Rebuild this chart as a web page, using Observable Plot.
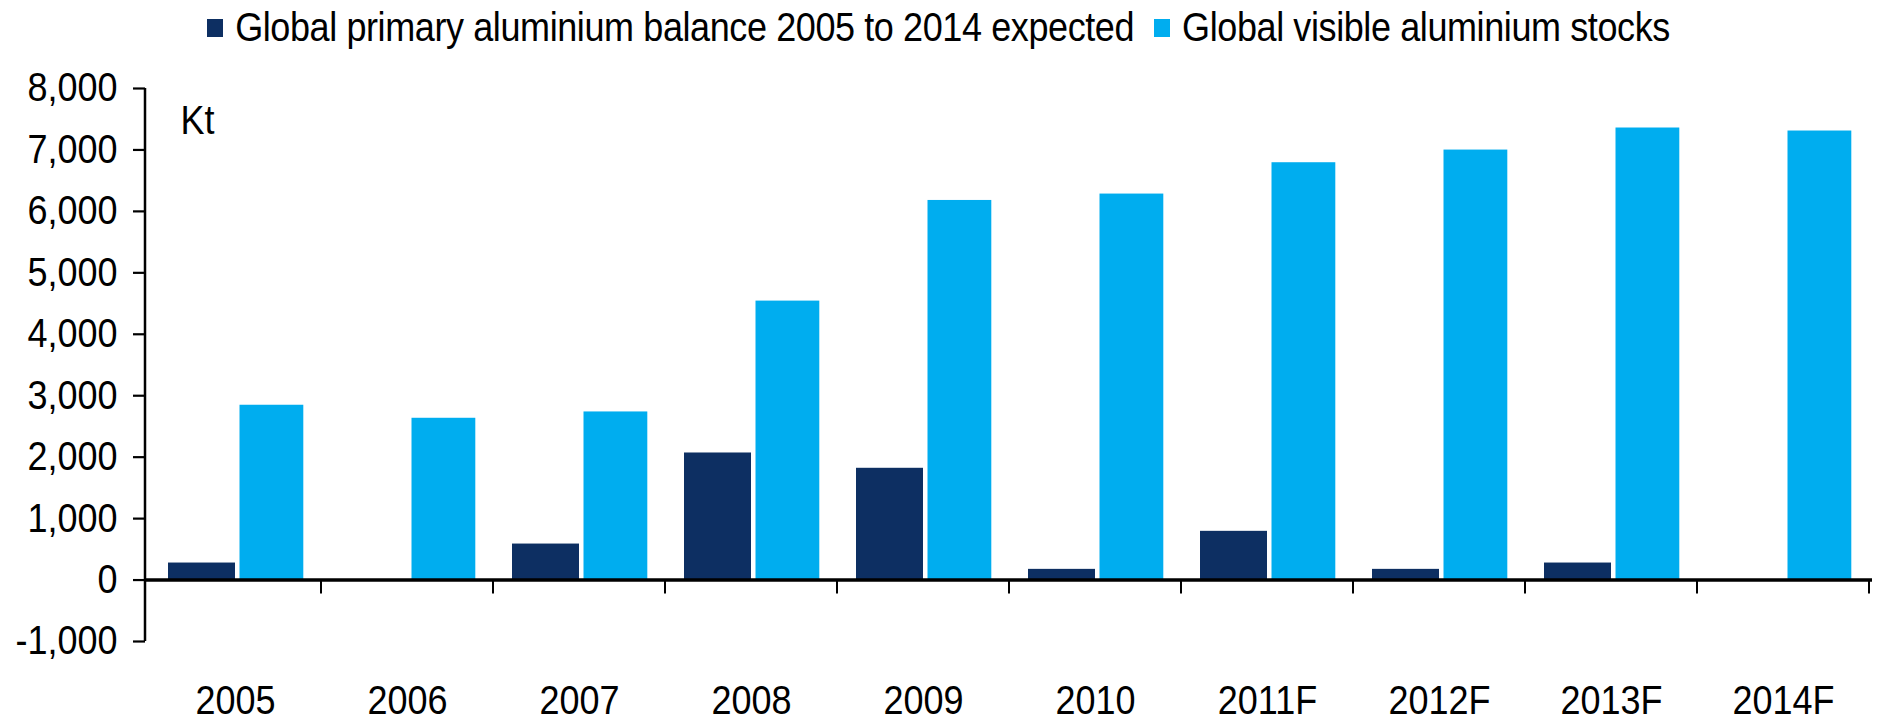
<!DOCTYPE html>
<html>
<head>
<meta charset="utf-8">
<script src="https://cdn.jsdelivr.net/npm/d3@7"></script>
<script src="https://cdn.jsdelivr.net/npm/@observablehq/plot@0.6"></script>
<style>
  html, body { margin: 0; padding: 0; background: #fff; }
  body { width: 1877px; height: 722px; overflow: hidden; font-family: "Liberation Sans Narrow", "Arial Narrow", "Liberation Sans", Arial, sans-serif; }
  #legend { height: 55px; display: flex; align-items: center; justify-content: center; font-size: 36px; color: #000; letter-spacing: -0.4px; }
  .sw { width: 16px; height: 18px; display: inline-block; margin-right: 12px; }
  .item { display: flex; align-items: center; margin-right: 20px; }
  .item:last-child { margin-right: 0; }
  .lbl { display: inline-block; transform: scaleY(1.11); }
  svg text { font-family: "Liberation Sans Narrow", "Arial Narrow", "Liberation Sans", Arial, sans-serif; }
</style>
</head>
<body>
<div id="legend"></div>
<div id="chart"></div>
<script>
const years = ["2005","2006","2007","2008","2009","2010","2011F","2012F","2013F","2014F"];
const balance = [277, 0, 586, 2068, 1819, 174, 793, 174, 277, 0];
const stocks = [2845, 2633, 2736, 4540, 6178, 6282, 6792, 6998, 7357, 7308];
const seriesNames = ["Global primary aluminium balance 2005 to 2014 expected", "Global visible aluminium stocks"];
const colors = ["#0d2f62", "#00adef"];
const yTicks = [-1000, 0, 1000, 2000, 3000, 4000, 5000, 6000, 7000, 8000];
const unitLabel = "Kt";

const balanceData = years.map((y, i) => ({year: y, value: balance[i]}));
const stocksData = years.map((y, i) => ({year: y, value: stocks[i]}));

// legend
const legend = document.getElementById("legend");
seriesNames.forEach((name, i) => {
  const item = document.createElement("div");
  item.className = "item";
  const sw = document.createElement("span");
  sw.className = "sw";
  sw.style.background = colors[i];
  const t = document.createElement("span");
  t.className = "lbl";
  t.textContent = name;
  item.appendChild(sw);
  item.appendChild(t);
  legend.appendChild(item);
});

// axis line + category boundary ticks, drawn through the plot's scales
function axisDecor(index, scales, values, dimensions) {
  const g = d3.create("svg:g");
  const x = scales.x, y = scales.y;
  g.append("line")
    .attr("x1", dimensions.marginLeft).attr("x2", dimensions.marginLeft)
    .attr("y1", y(yTicks[0])).attr("y2", y(yTicks[yTicks.length - 1]))
    .attr("stroke", "#000").attr("stroke-width", 2.5);
  const starts = years.map(d => x(d));
  const step = starts[1] - starts[0];
  const bounds = starts.slice(1).concat([starts[starts.length - 1] + step]);
  const y0 = y(0);
  for (const bx of bounds) {
    g.append("line")
      .attr("x1", bx).attr("x2", bx)
      .attr("y1", y0).attr("y2", y0 + 14)
      .attr("stroke", "#000").attr("stroke-width", 2);
  }
  return g.node();
}

const chart = Plot.plot({
  width: 1877,
  height: 667,
  marginLeft: 145,
  marginRight: 5,
  marginTop: 33,
  marginBottom: 81,
  x: {domain: years, padding: 0, type: "band"},
  y: {domain: [-1000, 8000]},
  style: {fontSize: "36px", color: "#000", background: "#fff"},
  marks: [
    Plot.barY(balanceData, {x: "year", y: "value", fill: colors[0], insetLeft: 19, insetRight: 86}),
    Plot.barY(stocksData, {x: "year", y: "value", fill: colors[1], insetLeft: 90.5, insetRight: 17.7}),
    Plot.ruleY([0], {stroke: "#000", strokeWidth: 3.5}),
    Plot.axisY({ticks: yTicks, tickSize: 12, tickPadding: 16, strokeWidth: 2.2,
      tickFormat: d => d3.format(",")(d).replace("\u2212", "-"), label: null, fontSize: 36}),
    Plot.axisX({tickSize: 0, tickPadding: 46, label: null, fontSize: 36}),
    axisDecor,
    Plot.text([unitLabel], {frameAnchor: "top-left", textAnchor: "start", lineAnchor: "bottom", dx: 35, dy: 44, fontSize: 36, fill: "#000"})
  ]
});
document.getElementById("chart").appendChild(chart);

// stretch each text slightly in height about its own vertical centre (reference font is tall/narrow)
chart.querySelectorAll("text").forEach(t => {
  const bb = t.getBBox();
  const cy = bb.y + bb.height / 2;
  const cur = t.getAttribute("transform") || "";
  t.setAttribute("transform", `${cur} translate(0,${cy}) scale(1,1.11) translate(0,${-cy})`.trim());
});
</script>
</body>
</html>
